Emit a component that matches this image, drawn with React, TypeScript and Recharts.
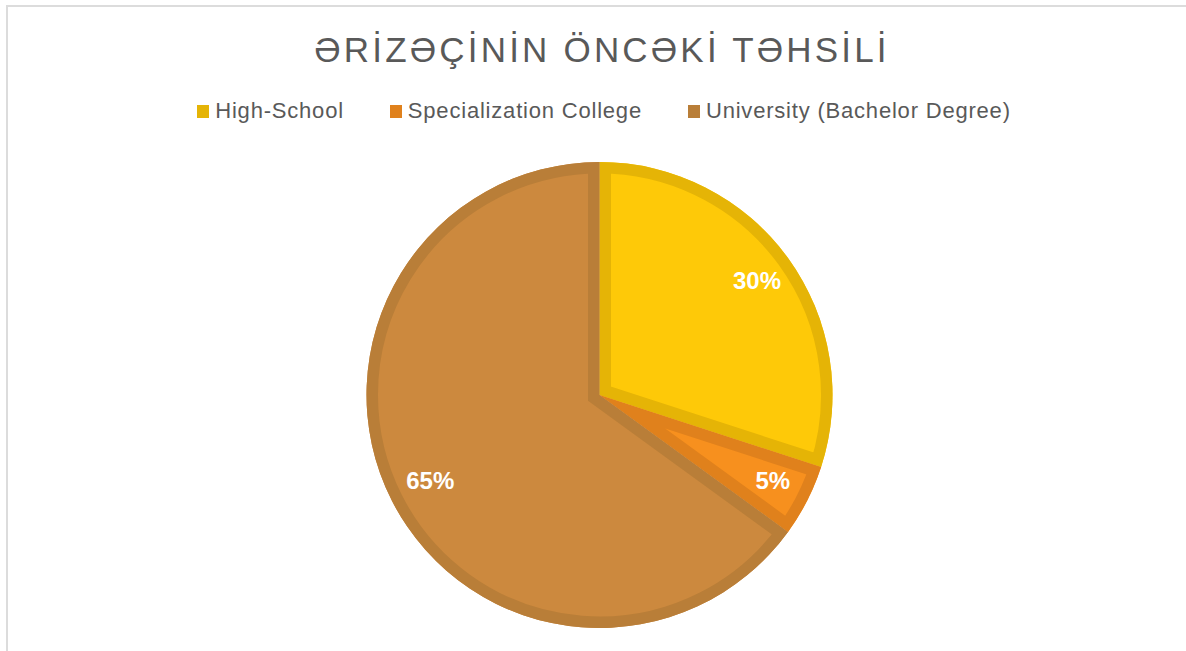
import React from 'react';
import { PieChart, Pie, Cell, Legend, Sector } from 'recharts';

const categories = ['High-School', 'Specialization College', 'University (Bachelor Degree)'];
const shares = [30, 5, 65];
const valueLabels = ['30%', '5%', '65%'];
const fillColors = ['#FEC908', '#F7901E', '#CC893E'];
const edgeColors = ['#E5B406', '#E0811C', '#B97E38'];
const titleText = 'ƏRİZƏÇİNİN ÖNCƏKİ TƏHSİLİ';

const data = categories.map((name, i) => ({ name, value: shares[i] }));

const FONT = '"Liberation Sans", Arial, sans-serif';
const TEXT_COLOR = '#595959';

const renderLabel = (props: any) => {
  const { cx, cy, outerRadius, startAngle, endAngle, index } = props;
  const RAD = Math.PI / 180;
  const mid = (startAngle + endAngle) / 2;
  const r = outerRadius * 0.825;
  const x = cx + r * Math.cos(-mid * RAD);
  const y = cy + r * Math.sin(-mid * RAD);
  const id = `slice-clip-${index}`;
  return (
    <g key={id}>
      <defs>
        <clipPath id={id}>
          <Sector cx={cx} cy={cy} innerRadius={0} outerRadius={outerRadius} startAngle={startAngle} endAngle={endAngle} />
        </clipPath>
      </defs>
      <g clipPath={`url(#${id})`}>
        <Sector
          cx={cx}
          cy={cy}
          innerRadius={0}
          outerRadius={outerRadius}
          startAngle={startAngle}
          endAngle={endAngle}
          fill="none"
          stroke={edgeColors[index]}
          strokeWidth={23}
        />
      </g>
      <text
        x={x + 2}
        y={y + 7}
        textAnchor="middle"
        fill="#ffffff"
        fontSize={24}
        fontWeight="bold"
        fontFamily={FONT}
      >
        {valueLabels[index]}
      </text>
    </g>
  );
};

const renderLegend = () => (
  <div
    style={{
      display: 'flex',
      justifyContent: 'center',
      gap: 46,
      fontFamily: FONT,
      fontSize: 22,
      letterSpacing: 0.8,
      lineHeight: '22px',
      color: TEXT_COLOR,
      whiteSpace: 'nowrap',
    }}
  >
    {categories.map((c, i) => (
      <div key={c} style={{ display: 'flex', alignItems: 'center' }}>
        <span
          style={{
            display: 'inline-block',
            width: 12,
            height: 13,
            background: edgeColors[i],
            marginRight: 6,
            marginTop: 1,
          }}
        />
        <span>{c}</span>
      </div>
    ))}
  </div>
);

export default function App() {
  return (
    <div
      style={{
        position: 'absolute',
        top: 0,
        left: 0,
        width: 1186,
        height: 651,
        overflow: 'hidden',
        background: '#ffffff',
      }}
    >
      <div
        style={{
          position: 'absolute',
          left: 6,
          top: 5,
          width: 1300,
          height: 800,
          border: '2px solid #dcdcdc',
          boxSizing: 'border-box',
        }}
      />
      <div
        style={{
          position: 'absolute',
          top: 32,
          left: 2,
          width: 1200,
          textAlign: 'center',
          fontFamily: FONT,
          fontSize: 35,
          lineHeight: '35px',
          letterSpacing: 3.2,
          color: TEXT_COLOR,
          whiteSpace: 'nowrap',
        }}
      >
        {titleText}
      </div>
      <div style={{ position: 'absolute', top: 0, left: 0 }}>
        <PieChart width={1186} height={651} margin={{ top: 0, right: 0, bottom: 0, left: 0 }}>
          <Legend
            layout="horizontal"
            verticalAlign="middle"
            align="center"
            content={renderLegend}
            wrapperStyle={{ top: 100, left: 11, width: 1186 }}
          />
          <Pie
            data={data}
            dataKey="value"
            nameKey="name"
            cx={599.5}
            cy={395}
            innerRadius={0}
            outerRadius={233}
            startAngle={90}
            endAngle={-270}
            stroke="none"
            label={renderLabel}
            labelLine={false}
            isAnimationActive={false}
          >
            {data.map((d, i) => (
              <Cell key={d.name} fill={fillColors[i]} />
            ))}
          </Pie>
        </PieChart>
      </div>
    </div>
  );
}
